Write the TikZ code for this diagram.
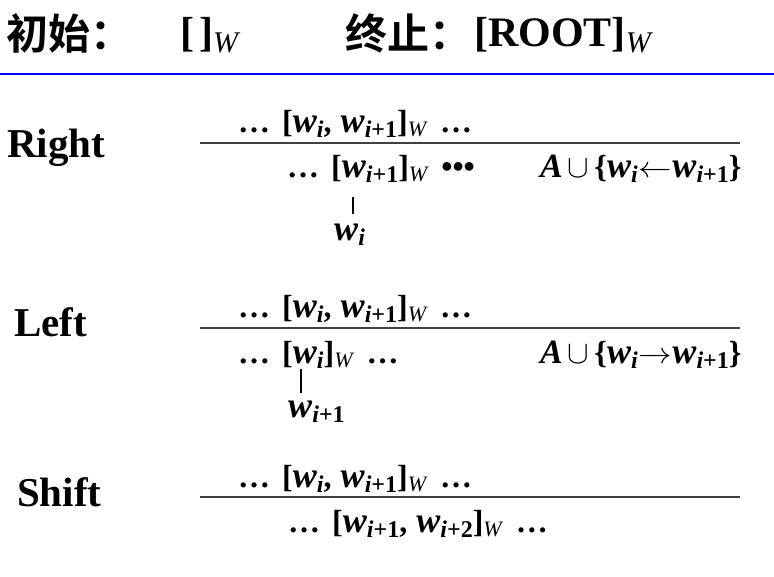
\documentclass[tikz,border=0pt]{standalone}
\usepackage{amsmath}
\usepackage{fontspec}
\setmainfont{Liberation Serif}
\newfontfamily\cjkfont{Noto Sans CJK SC Bold}
\usetikzlibrary{calc}

% parola con indice
\newcommand{\wv}[1]{{\fontsize{36}{36}\selectfont\textit{w}}\raisebox{-5pt}{\fontsize{24}{24}\selectfont #1}}
\newcommand{\subW}{\raisebox{-4pt}{\fontsize{22}{22}\selectfont\mdseries\itshape W}}
\newcommand{\titW}{\raisebox{-6pt}{\fontsize{30}{30}\selectfont\mdseries\itshape W}}
\newcommand{\unione}[1]{{\fontsize{34}{34}\selectfont\textit{A}}\kern5pt\scalebox{1.3}{$\cup$}\kern5pt\{#1\}}
\newcommand{\freccia}[1]{\scalebox{1.35}[1.2]{$#1$}}
\newcommand{\puntini}{…\kern12pt}

\tikzset{
  titolo/.style={anchor=base west, inner sep=0pt, font=\fontsize{42}{48}\selectfont},
  titoloL/.style={anchor=base west, inner sep=0pt, font=\fontsize{42}{48}\selectfont\bfseries},
  regola/.style={anchor=base west, inner sep=0pt, font=\fontsize{41}{48}\selectfont\bfseries},
  formula/.style={anchor=base west, inner sep=0pt, font=\fontsize{32}{36}\selectfont\bfseries},
  fracline/.style={line width=1.6pt, black!75},
  depbar/.style={line width=1.2pt},
  blu/.style={line width=2pt, blue},
}

\begin{document}
\begin{tikzpicture}[x=1pt, y=-1pt]
    \useasboundingbox (0,0) rectangle (774,576);

    % titolo
    \node[titolo]  (ini)  at (6,49)   {\cjkfont 初始：};
    \node[titoloL] (iniW) at (180,46) {[\kern5pt]\titW};
    \node[titolo]  (fin)  at (345,49) {\cjkfont 终止：};
    \node[titoloL] (finW) at (474,46) {[ROOT]\titW};
    \draw[blu] (0,74) -- (774,74);

    % Right
    \node[regola]  (right) at (7,157)   {Right};
    \node[formula] (rTop)  at (238,132) {\puntini[\wv{\textit{i}},\kern9pt\wv{\textit{i}+1}]\subW\kern14pt…};
    \draw[fracline] (200,143) -- (740,143);
    \node[formula] (rBot)  at (287,177) {\puntini[\wv{\textit{i}+1}]\subW\kern14pt•••};
    \node[formula] (rArc)  at (540,177) {\unione{\wv{\textit{i}}\kern1pt\freccia{\leftarrow}\wv{\textit{i}+1}}};
    \coordinate (rHead) at (353,197);
    \node[formula] (rDep)  at (334,240) {\wv{\textit{i}}};
    \draw[depbar, shorten >=9pt] (rHead) -- (rHead |- rDep.north);

    % Left
    \node[regola]  (left) at (14,336)  {Left};
    \node[formula] (lTop) at (238,317) {\puntini[\wv{\textit{i}},\kern9pt\wv{\textit{i}+1}]\subW\kern14pt…};
    \draw[fracline] (200,328) -- (740,328);
    \node[formula] (lBot) at (238,363) {\puntini[\wv{\textit{i}}]\subW\kern14pt…};
    \node[formula] (lArc) at (540,363) {\unione{\wv{\textit{i}}\kern1pt\freccia{\rightarrow}\wv{\textit{i}+1}}};
    \coordinate (lHead) at (301,369);
    \node[formula] (lDep) at (288,417) {\wv{\textit{i}+1}};
    \draw[depbar, shorten >=7pt] (lHead) -- (lHead |- lDep.north);

    % Shift
    \node[regola]  (shift) at (17,506)  {Shift};
    \node[formula] (sTop)  at (238,487) {\puntini[\wv{\textit{i}},\kern9pt\wv{\textit{i}+1}]\subW\kern14pt…};
    \draw[fracline] (200,497) -- (740,497);
    \node[formula] (sBot)  at (288,532) {\puntini[\wv{\textit{i}+1},\kern9pt\wv{\textit{i}+2}]\subW\kern14pt…};
\end{tikzpicture}
\end{document}
